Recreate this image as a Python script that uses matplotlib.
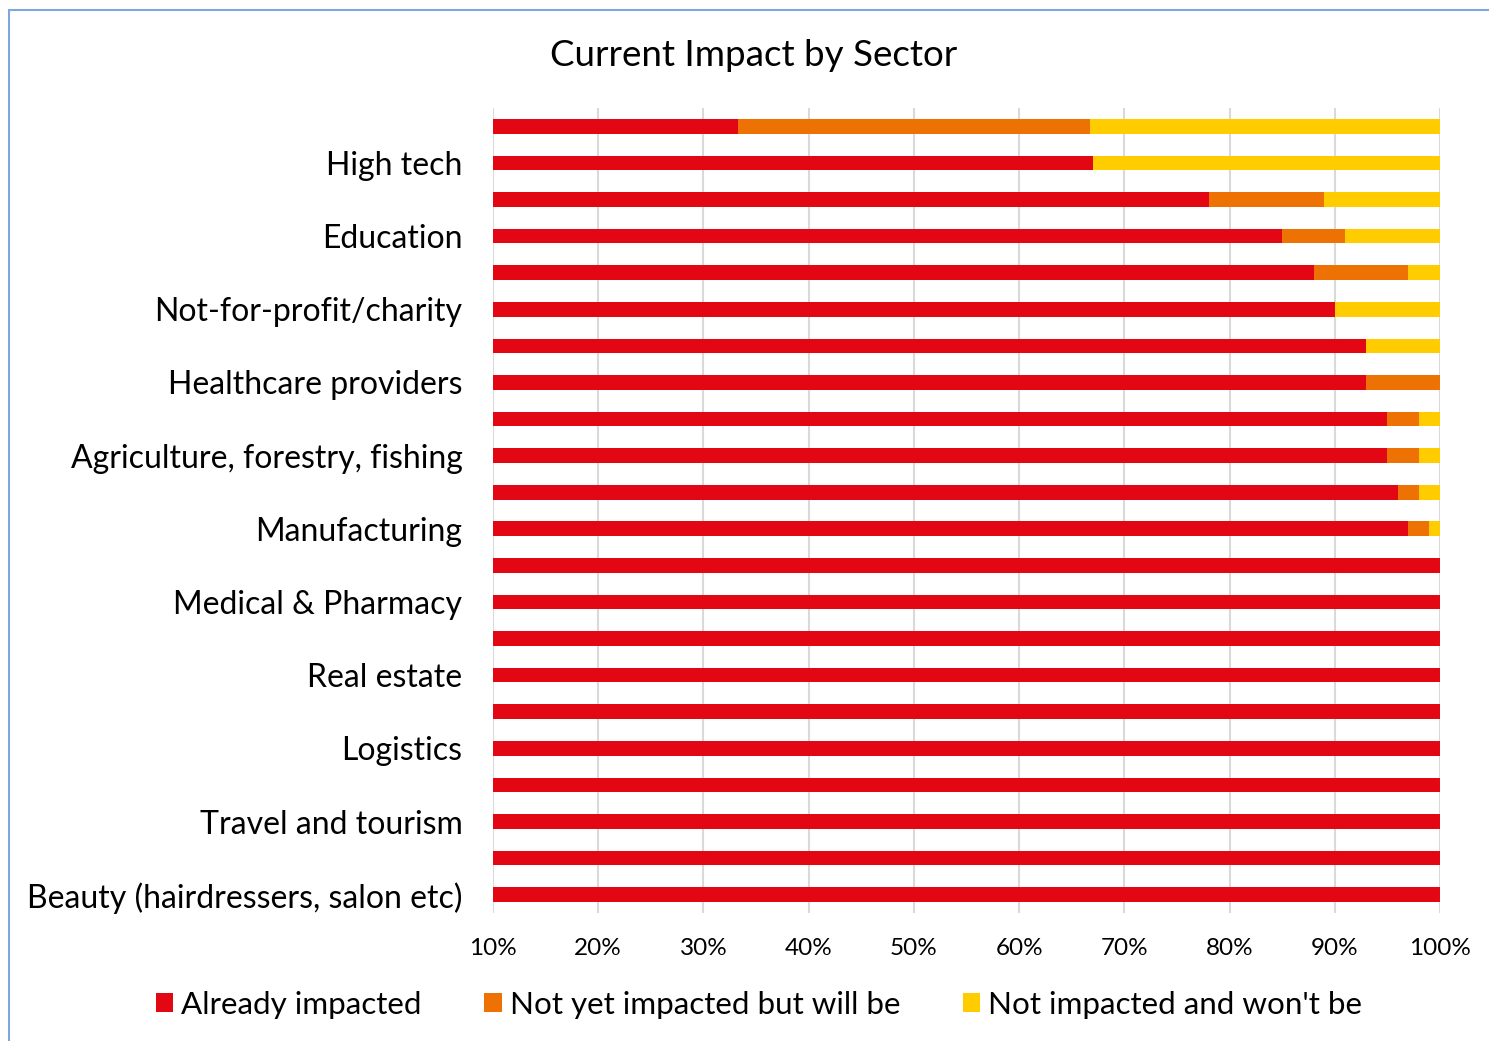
import numpy as np
import matplotlib.pyplot as plt
from matplotlib.patches import Rectangle

plt.rcParams['font.family'] = ['Lato', 'DejaVu Sans']

# bars from top to bottom, values in percent
sectors = ['', 'High tech', '', 'Education', '', 'Not-for-profit/charity', '',
           'Healthcare providers', '', 'Agriculture, forestry, fishing', '',
           'Manufacturing', '', 'Medical & Pharmacy', '', 'Real estate', '',
           'Logistics', '', 'Travel and tourism', '', 'Beauty (hairdressers, salon etc)']
already = [33.3, 67, 78, 85, 88, 90, 93, 93, 95, 95, 96, 97,
           100, 100, 100, 100, 100, 100, 100, 100, 100, 100]
not_yet = [33.4, 0, 11, 6, 9, 0, 0, 7, 3, 3, 2, 2,
           0, 0, 0, 0, 0, 0, 0, 0, 0, 0]
wont = [33.3, 33, 11, 9, 3, 10, 7, 0, 2, 2, 2, 1,
        0, 0, 0, 0, 0, 0, 0, 0, 0, 0]
xticks = [10, 20, 30, 40, 50, 60, 70, 80, 90, 100]

red, orange, yellow = '#E30613', '#EE7203', '#FFCC00'

fig = plt.figure(figsize=(14.89, 10.41), dpi=100)
ax = fig.add_axes([493 / 1489, 1 - 913 / 1041, (1440 - 493) / 1489, (913 - 108) / 1041])

y = np.arange(len(sectors))
a = np.array(already)
n = np.array(not_yet)
w = np.array(wont)
ax.barh(y, a, height=0.4, color=red, label='Already impacted', zorder=2)
ax.barh(y, n, left=a, height=0.4, color=orange, label='Not yet impacted but will be', zorder=2)
ax.barh(y, w, left=a + n, height=0.4, color=yellow, label="Not impacted and won't be", zorder=2)

ax.set_xlim(10, 100)
ax.set_ylim(len(sectors) - 0.5, -0.5)
ax.set_xticks(xticks)
ax.set_xticklabels([f'{t}%' for t in xticks], fontsize=17.5)
ax.set_yticks(y)
ax.set_yticklabels(sectors, fontsize=23)
ax.tick_params(axis='y', length=0, pad=22)
ax.tick_params(axis='x', length=0, pad=18)
ax.grid(axis='x', color='#D9D9D9', lw=1.5, zorder=0)
for s in ax.spines.values():
    s.set_visible(False)

fig.text(754 / 1489, 1 - 55 / 1041, 'Current Impact by Sector', fontsize=26.5,
         ha='center', va='center')

fig.legend(loc='center', bbox_to_anchor=(759 / 1489, 1 - 1005 / 1041), ncol=3,
           frameon=False, fontsize=22.6, handlelength=0.55, handleheight=0.55,
           handletextpad=0.25, columnspacing=2.0)

fig.patches.append(Rectangle((9 / 1489, -0.1), 1.2, 1 - 10 / 1041 + 0.1,
                             transform=fig.transFigure, fill=False,
                             edgecolor='#7EA6E0', lw=1.5))

fig.savefig('out.png', dpi=100)
